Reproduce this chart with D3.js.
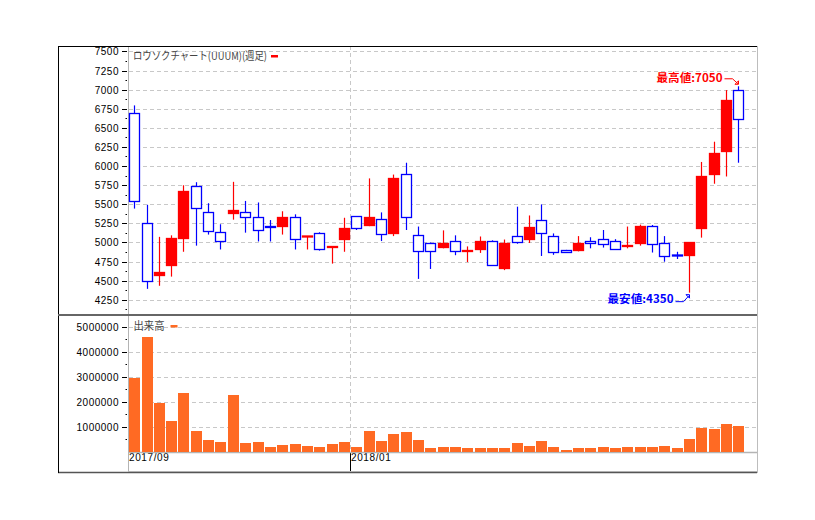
<!DOCTYPE html>
<html><head><meta charset="utf-8">
<script src="https://cdn.jsdelivr.net/npm/d3@7"></script>
<style>body{margin:0;background:#fff}svg{display:block}</style>
</head><body>
<svg id="c" width="815" height="520"></svg>
<script>
// ---- data ----
const weeks = [
 "2017-08-28","2017-09-04","2017-09-11","2017-09-18","2017-09-25","2017-10-02","2017-10-09","2017-10-16","2017-10-23","2017-10-30",
 "2017-11-06","2017-11-13","2017-11-20","2017-11-27","2017-12-04","2017-12-11","2017-12-18","2017-12-25",
 "2018-01-01","2018-01-08","2018-01-15","2018-01-22","2018-01-29","2018-02-05","2018-02-12","2018-02-19","2018-02-26",
 "2018-03-05","2018-03-12","2018-03-19","2018-03-26","2018-04-02","2018-04-09","2018-04-16","2018-04-23","2018-04-30",
 "2018-05-07","2018-05-14","2018-05-21","2018-05-28","2018-06-04","2018-06-11","2018-06-18","2018-06-25",
 "2018-07-02","2018-07-09","2018-07-16","2018-07-23","2018-07-30","2018-08-06"];
const open  = [6700,5250,4575,4705,5060,5740,5400,5140,5385,5400,5335,5215,5220,5335,5085,5125,4940,5045,5340,5235,
               5305,5130,5890,5095,4990,4935,5015,4885,4920,5015,4660,5080,5040,5290,5080,4905,4900,5025,5050,5020,
               4955,4990,5210,4995,4835,4835,5190,5895,6195,7000];
const high  = [6800,5500,5080,5100,5755,5795,5520,5245,5800,5550,5530,5300,5415,5375,5090,5140,4960,5330,5345,5845,
               5400,5895,6050,5215,5005,5165,5100,4955,5085,5035,5045,5475,5360,5505,5125,4910,5090,5075,5170,5050,
               5215,5240,5235,5090,4885,5000,6060,6325,7000,7050];
const low   = [5450,4400,4440,4560,4885,4965,5110,4915,5305,5135,5020,5020,5110,4915,4915,4900,4730,4885,5170,5220,
               5025,5090,5170,4530,4660,4930,4840,4750,4870,4700,4645,4990,5000,4830,4845,4875,4890,4930,4940,4915,
               4930,4965,4875,4755,4790,4350,5070,5775,5870,6050];
const close = [5540,4500,4620,5065,5680,5455,5155,5020,5430,5335,5165,5205,5335,5050,5090,4920,4960,5185,5195,5335,
               5105,5845,5330,4885,4885,4990,4885,4900,5020,4705,4990,5005,5205,5120,4870,4880,4995,4995,4985,4920,
               4965,5210,4985,4820,4830,5000,5875,6165,6860,6620];
const volume = [2970000,4610000,1970000,1250000,2370000,850000,490000,410000,2290000,370000,
                410000,210000,290000,330000,250000,210000,330000,410000,210000,850000,
                450000,730000,810000,490000,170000,210000,210000,170000,170000,170000,
                170000,370000,250000,450000,210000,90000,170000,170000,210000,170000,
                210000,210000,210000,250000,170000,530000,970000,930000,1130000,1050000];
const priceTicks = [4250,4500,4750,5000,5250,5500,5750,6000,6250,6500,6750,7000,7250,7500];
const priceMinor = [4125,4375,4625,4875,5125,5375,5625,5875,6125,6375,6625,6875,7125,7375];
const volumeTicks = [1000000,2000000,3000000,4000000,5000000];
const volumeMinor = [500000,1500000,2500000,3500000,4500000];
const xTickWeeks = ["2017-08-28","2018-01-01"];
const xTickLabels = ["2017/09","2018/01"];
const priceTitle = "ロウソクチャート(UUUM)(週足)";
const volumeTitle = "出来高";
const highLabel = "最高値:7050";
const lowLabel = "最安値:4350";

// ---- layout ----
const frameL = 58, frameR = 757, frameT = 46, frameB = 472;
const plotL = 128, plotR = 757;
const divY = 315, baseY = 452.5;
const RED = "#ff0000", BLUE = "#0000ff", ORANGE = "#ff6a23", GRID = "#c8c8c8", AXIS = "#b4b4b4";
const numFont = "'Liberation Sans', Arial, sans-serif";
const cjkFont = "'Noto Sans CJK JP', sans-serif";
const crisp = v => Math.round(v - 0.5) + 0.5;

const svg = d3.select("#c");
svg.append("rect").attr("width",815).attr("height",520).attr("fill","#fff");

const x = d3.scaleBand().domain(weeks)
  .range([plotL, plotL + (plotR - plotL) * weeks.length / (weeks.length + 1)]);
const step = x.step();
const cx = w => Math.round(x(w) + step / 2);

const yP = d3.scaleLinear().domain([4250, 7500]).range([300.3, 51.9]);
const yV = d3.scaleLinear().domain([0, 5000000]).range([452.3, 327.3]);

// ---- grids ----
const grid = svg.append("g").attr("stroke", GRID).attr("stroke-width", 1).attr("stroke-dasharray", "4,3");
priceTicks.forEach(v => grid.append("line").attr("x1", plotL + 1).attr("x2", plotR)
  .attr("y1", crisp(yP(v))).attr("y2", crisp(yP(v))));
volumeTicks.forEach(v => grid.append("line").attr("x1", plotL + 1).attr("x2", plotR)
  .attr("y1", crisp(yV(v))).attr("y2", crisp(yV(v))));
xTickWeeks.slice(1).forEach(w => grid.append("line")
  .attr("x1", crisp(x(w) + 0.5)).attr("x2", crisp(x(w) + 0.5)).attr("y1", frameT).attr("y2", baseY));

// ---- axes ----
function styleAxis(sel) {
  sel.select(".domain").remove();
  sel.selectAll(".tick line").attr("stroke", "#000");
  sel.selectAll(".tick text").attr("font-family", numFont).attr("font-size", 10)
    .attr("letter-spacing", "0.5px").attr("fill", "#000");
}
const axP = svg.append("g").attr("transform", "translate(127,0)")
  .call(d3.axisLeft(yP).tickValues(priceTicks).tickSize(5).tickPadding(3).tickFormat(d3.format("d")));
axP.selectAll(".tick").attr("transform", d => `translate(0,${crisp(yP(d))})`);
styleAxis(axP);
const axPm = svg.append("g").attr("transform", "translate(127,0)")
  .call(d3.axisLeft(yP).tickValues(priceMinor).tickSize(1.5).tickFormat(""));
axPm.selectAll(".tick").attr("transform", d => `translate(0,${crisp(yP(d))})`);
styleAxis(axPm);

const axV = svg.append("g").attr("transform", "translate(127,0)")
  .call(d3.axisLeft(yV).tickValues(volumeTicks).tickSize(5).tickPadding(3).tickFormat(d3.format("d")));
axV.selectAll(".tick").attr("transform", d => `translate(0,${crisp(yV(d))})`);
styleAxis(axV);
const axVm = svg.append("g").attr("transform", "translate(127,0)")
  .call(d3.axisLeft(yV).tickValues(volumeMinor).tickSize(1.5).tickFormat(""));
axVm.selectAll(".tick").attr("transform", d => `translate(0,${crisp(yV(d))})`);
styleAxis(axVm);

const axX = svg.append("g").attr("transform", `translate(0,${baseY - 0.5})`)
  .call(d3.axisBottom(x).tickValues(xTickWeeks).tickSize(20)
    .tickFormat(d => xTickLabels[xTickWeeks.indexOf(d)]));
axX.select(".domain").remove();
axX.selectAll(".tick").attr("transform", d => `translate(${crisp(x(d) + 0.5)},0)`);
axX.selectAll(".tick line").attr("stroke", (d, i) => i === 0 ? AXIS : "#000");
axX.selectAll(".tick text").attr("text-anchor", "start").attr("x", 0.5).attr("y", 2.2)
  .attr("font-family", numFont).attr("font-size", 10).attr("letter-spacing", "0.6px").attr("fill", "#000");

// ---- frame lines ----
const fr = svg.append("g");
fr.append("line").attr("x1", plotL + 0.5).attr("x2", plotL + 0.5).attr("y1", frameT).attr("y2", frameB)
  .attr("stroke", AXIS);
fr.append("line").attr("x1", plotL).attr("x2", plotR).attr("y1", baseY).attr("y2", baseY)
  .attr("stroke", AXIS).attr("stroke-width", 1.5);
fr.append("line").attr("x1", plotL).attr("x2", plotR).attr("y1", frameB - 0.5).attr("y2", frameB - 0.5)
  .attr("stroke", "#d0d0d0");
fr.append("line").attr("x1", frameL).attr("x2", frameR).attr("y1", frameB + 0.5).attr("y2", frameB + 0.5)
  .attr("stroke", "#555").attr("stroke-width", 1.3);
fr.append("line").attr("x1", frameL).attr("x2", frameR).attr("y1", frameT + 0.5).attr("y2", frameT + 0.5)
  .attr("stroke", "#000");
fr.append("line").attr("x1", frameL + 0.5).attr("x2", frameL + 0.5).attr("y1", frameT).attr("y2", frameB + 1)
  .attr("stroke", "#000");
fr.append("line").attr("x1", frameR + 0.5).attr("x2", frameR + 0.5).attr("y1", frameT).attr("y2", frameB + 1)
  .attr("stroke", "#bdbdbd");
fr.append("line").attr("x1", frameL).attr("x2", frameR).attr("y1", divY).attr("y2", divY)
  .attr("stroke", "#666").attr("stroke-width", 2.2);

// ---- volume bars ----
svg.append("g").selectAll("rect").data(weeks).join("rect")
  .attr("x", w => cx(w) - 5).attr("width", 11)
  .attr("y", (w, i) => Math.round(yV(volume[i])))
  .attr("height", (w, i) => Math.round(yV(0)) - Math.round(yV(volume[i])))
  .attr("fill", ORANGE);

// ---- candles ----
const cg = svg.append("g");
weeks.forEach((w, i) => {
  const up = close[i] >= open[i];
  const col = up ? RED : BLUE;
  const c = cx(w) + 0.5;
  cg.append("line").attr("x1", c).attr("x2", c)
    .attr("y1", yP(high[i])).attr("y2", yP(low[i])).attr("stroke", col).attr("stroke-width", 1.2);
  const top = crisp(yP(Math.max(open[i], close[i])));
  const bot = crisp(yP(Math.min(open[i], close[i])));
  const h = Math.max(1, bot - top);
  cg.append("rect").attr("x", c - 5).attr("width", 10)
    .attr("y", bot - top < 1 ? top - 0.5 : top).attr("height", h)
    .attr("fill", up ? RED : "#fff").attr("stroke", col).attr("stroke-width", 1.3);
});

// ---- legends ----
svg.append("text").attr("x", 133).attr("y", 59.5).text(priceTitle)
  .attr("font-family", cjkFont).attr("font-size", 11).attr("fill", "#444")
  .attr("textLength", 134).attr("lengthAdjust", "spacingAndGlyphs");
svg.append("rect").attr("x", 271).attr("y", 55).attr("width", 7).attr("height", 2.5).attr("fill", RED);
svg.append("text").attr("x", 133.5).attr("y", 330).text(volumeTitle)
  .attr("font-family", cjkFont).attr("font-size", 11).attr("fill", "#444")
  .attr("textLength", 31).attr("lengthAdjust", "spacingAndGlyphs");
svg.append("rect").attr("x", 170.5).attr("y", 325).attr("width", 7).attr("height", 2.5).attr("fill", ORANGE);

// ---- annotations ----
const hiIdx = high.indexOf(d3.max(high));
const loIdx = low.indexOf(d3.min(low));
const hx = cx(weeks[hiIdx]) + 0.5, hy = yP(high[hiIdx]);
const lx = cx(weeks[loIdx]) + 0.5, ly = yP(low[loIdx]);
svg.append("text").attr("x", hx - 82).attr("y", hy - 4).text(highLabel)
  .attr("font-family", cjkFont).attr("font-weight", "bold").attr("font-size", 11).attr("fill", RED)
  .attr("textLength", 66).attr("lengthAdjust", "spacingAndGlyphs");
svg.append("path").attr("d", `M${hx - 14},${hy - 7.5} H${hx - 6} L${hx - 0.5},${hy - 2.5}`)
  .attr("fill", "none").attr("stroke", RED).attr("stroke-width", 1);
svg.append("path").attr("d", `M${hx},${hy - 2} L${hx - 3.5},${hy - 2} L${hx},${hy - 5.5} Z`)
  .attr("fill", "none").attr("stroke", RED).attr("stroke-width", 1);

svg.append("text").attr("x", lx - 82).attr("y", ly + 10.5).text(lowLabel)
  .attr("font-family", cjkFont).attr("font-weight", "bold").attr("font-size", 11).attr("fill", BLUE)
  .attr("textLength", 66).attr("lengthAdjust", "spacingAndGlyphs");
svg.append("path").attr("d", `M${lx - 14},${ly + 9} H${lx - 6} L${lx - 0.5},${ly + 3}`)
  .attr("fill", "none").attr("stroke", BLUE).attr("stroke-width", 1);
svg.append("path").attr("d", `M${lx},${ly + 2} L${lx - 3.5},${ly + 2} L${lx},${ly + 5.5} Z`)
  .attr("fill", "none").attr("stroke", BLUE).attr("stroke-width", 1);
</script>
</body></html>
